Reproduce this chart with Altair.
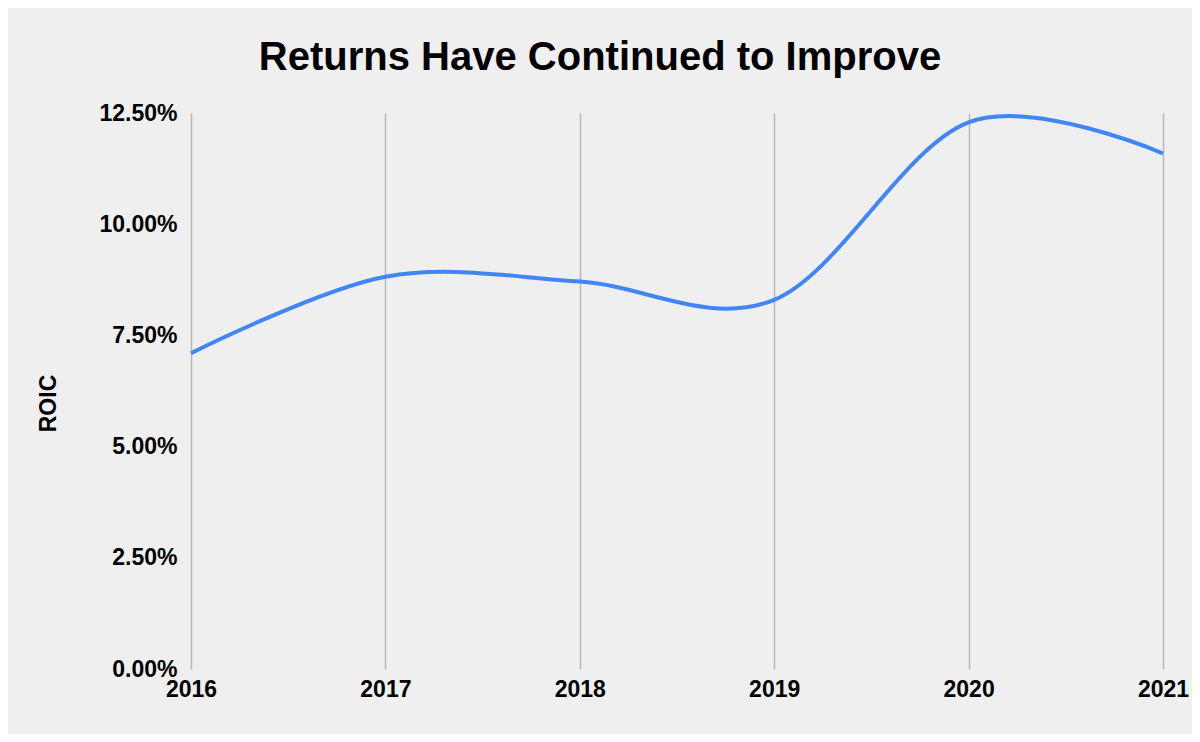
import altair as alt
import pandas as pd

years = [2016, 2017, 2018, 2019, 2020, 2021]
roic = [0.0710, 0.0882, 0.0871, 0.0830, 0.1229, 0.1159]

y_ticks = [0.0, 0.025, 0.05, 0.075, 0.10, 0.125]

df = pd.DataFrame({"Year": years, "ROIC": roic})

FONT = "Liberation Sans"

chart = (
    alt.Chart(df)
    .mark_line(interpolate="cardinal", color="#4285f4", strokeWidth=4)
    .encode(
        x=alt.X(
            "Year:Q",
            scale=alt.Scale(domain=[2016, 2021], nice=False, zero=False),
            axis=alt.Axis(
                values=years,
                format="d",
                title=None,
                grid=True,
                gridColor="#b7b7b7",
                gridWidth=1.5,
                domain=False,
                ticks=False,
                labelFont=FONT,
                labelFontSize=23,
                labelFontWeight="bold",
                labelColor="#000000",
                labelPadding=9,
                labelFlush=False,
            ),
        ),
        y=alt.Y(
            "ROIC:Q",
            scale=alt.Scale(domain=[0, 0.125], nice=False),
            axis=alt.Axis(
                values=y_ticks,
                format=".2%",
                title="ROIC",
                grid=False,
                domain=False,
                ticks=False,
                labelFont=FONT,
                labelFontSize=23,
                labelFontWeight="bold",
                labelColor="#000000",
                labelPadding=14,
                titleFont=FONT,
                titleFontSize=23,
                titleFontWeight="bold",
                titleColor="#000000",
                titleAngle=270,
                titleAlign="center",
                titleBaseline="middle",
                titleX=-143,
                titleY=290,
            ),
        ),
    )
    .properties(
        width=972,
        height=556,
        autosize=alt.AutoSizeParams(type="none"),
        padding={"left": 183, "top": 105, "right": 29, "bottom": 65},
        background="#efefef",
        title=alt.TitleParams(
            "Returns Have Continued to Improve",
            font=FONT,
            fontSize=40,
            fontWeight="bold",
            color="#000000",
            anchor="middle",
            dx=-77,
            baseline="alphabetic",
            offset=-8,
        ),
    )
    .configure_view(stroke=None, fill="#efefef")
)

chart.save("out.html", embed_options={"renderer": "svg", "actions": False})
